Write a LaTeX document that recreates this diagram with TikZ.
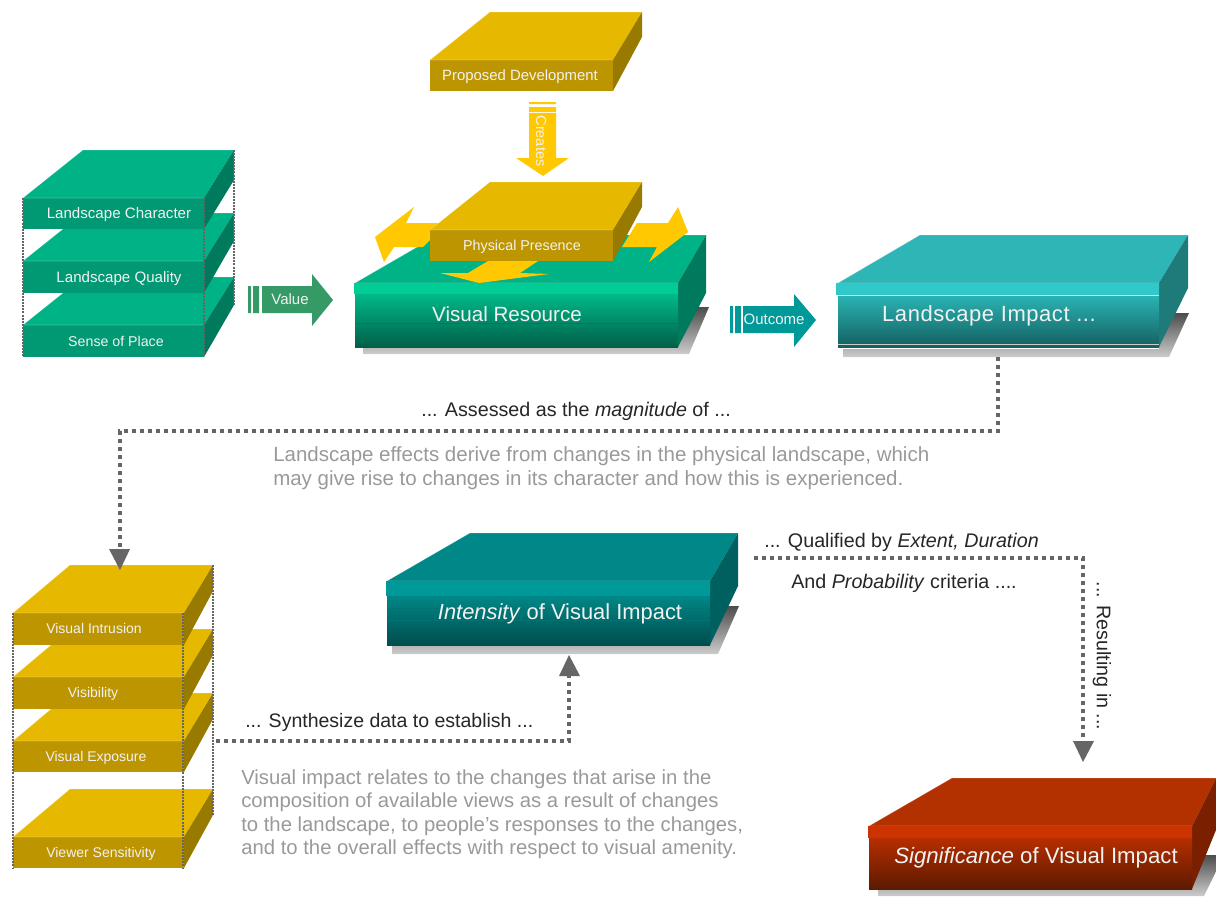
\documentclass[tikz,border=0pt]{standalone}
\usepackage{fontspec}
\setmainfont{Liberation Sans}
\usetikzlibrary{calc}
\definecolor{gtop}{HTML}{00B386}\definecolor{gfront}{HTML}{009973}\definecolor{gside}{HTML}{007A5C}
\definecolor{ytop}{HTML}{E6B800}\definecolor{yfront}{HTML}{BD9500}\definecolor{yside}{HTML}{997A00}
\definecolor{flow}{HTML}{FFC800}\definecolor{conn}{HTML}{666666}\definecolor{note}{HTML}{999999}
\definecolor{valc}{HTML}{359A66}\definecolor{outc}{HTML}{009999}
\newcommand{\fs}[1]{\pgfmathsetmacro{\fsz}{#1*0.75}\fontsize{\fsz}{\fsz}\selectfont}
\def\ctop{gtop}\def\cside{gside}
% name, xL, xR, yT, yB, backL, backR, backY, sideBottomY
\newcommand{\slab}[9]{%
  \fill[\ctop] (#2,#4) -- (#6,#8) -- (#7,#8) -- (#3,#4) -- cycle;
  \fill[\cside] (#3,#4) -- (#7,#8) -- (#7,#9) -- (#3,#5) -- cycle;
  \pgfmathsetmacro{\cxx}{(#2+#3)/2}\pgfmathsetmacro{\cyy}{(#4+#5)/2}
  \pgfmathsetmacro{\wdd}{(#3-#2)*0.75}\pgfmathsetmacro{\htt}{(#5-#4)*0.75}
  \node[slabfront,minimum width=\wdd pt,minimum height=\htt pt] (#1) at (\cxx,\cyy) {};
  \draw[white,opacity=0.25,line width=0.5pt] (#2,#4) -- (#6,#8) -- (#7,#8) (#2,#4) -- (#3,#4);
}
\newcommand{\shadowpoly}[6]{% xL,xR,yB (bottom), xRtop, yTop, xFront
  \shade[top color=black!70,bottom color=black!20]
    (#1,#3) -- (#2,#3) -- (#4,#5) -- (#6,#5) -- (#6,#3-8) -- (#1,#3-8) -- cycle;
}
\tikzset{
  slabfront/.style={fill=gfront,inner sep=0pt,outer sep=0pt,draw=none},
  slabtext/.style={text=white!95!black,inner sep=0pt,font=\fs{14}},
  bigtext/.style={text=white!95!black,inner sep=0pt,font=\fs{21}},
  linktext/.style={text=black!85,inner sep=0pt,anchor=west,font=\fs{19.7}},
  notetext/.style={text=note,inner sep=0pt,anchor=west,font=\fs{20.3}},
  edgeline/.style={conn,line width=0.9pt,dash pattern=on 1.5pt off 0.8pt},
  flowline/.style={conn,line width=3pt,dash pattern=on 3pt off 3pt},
  headfill/.style={fill=conn,draw=none},
}
\begin{document}
\begin{tikzpicture}[x=0.75pt,y=-0.75pt]
\useasboundingbox (0,0) rectangle (1216,896);
\clip (0,0) rectangle (1216,896);

% --- left green stack
\def\ctop{gtop}\def\cside{gside}
\slab{sq}{23}{204}{325}{357}{83}{234}{277}{305}
\slab{lq}{23}{204}{261}{293}{83}{234}{213}{241}
\slab{lc}{23}{204}{198}{229}{83}{234}{150}{180}
\draw[edgeline] (23,198) -- (23,357) (204,198) -- (204,357) (234,150) -- (234,305);
\node[slabtext,font=\fs{15.1}] (lct) at (119,215) {Landscape Character};
\node[slabtext,font=\fs{15.1}] (lqt) at (119,279) {Landscape Quality};
\node[slabtext,font=\fs{14.2}] (spt) at (116,341) {Sense of Place};

% --- value arrow
\fill[valc] (248,286) rectangle (251,313) (253,286) rectangle (259,313)
  (262,286) -- (312,286) -- (312,274) -- (333,300) -- (312,326) -- (312,313) -- (262,313) -- cycle;
\node[text=white!95!black,inner sep=0pt,font=\fs{15}] (valuet) at (290,299) {Value};

% --- proposed development
\def\ctop{ytop}\def\cside{yside}
\tikzset{slabfront/.style={fill=yfront,inner sep=0pt,outer sep=0pt,draw=none}}
\slab{pd}{430}{613}{60}{91}{490}{642}{12}{37}
\node[slabtext,font=\fs{14.9}] (pdt) at (520,77) {Proposed Development};

% --- creates arrow
\fill[flow] (529,102) rectangle (556,104) (529,107) rectangle (556,112)
  (529,113) -- (556,113) -- (556,158) -- (569,158) -- (543,176) -- (516,158) -- (529,158) -- cycle;
\node[rotate=-90,text=white!95!black,inner sep=0pt,font=\fs{14.5}] (createst) at (541,141) {Creates};

% --- visual resource
\begin{scope}
\def\ctop{gtop}\def\cside{gside}
\shadowpoly{363}{689}{354}{709}{307}{678}
\tikzset{slabfront/.style={top color=HTMLa,middle color=HTMLb,bottom color=HTMLc,inner sep=0pt,outer sep=0pt,draw=none}}
\definecolor{HTMLa}{HTML}{00CC96}\definecolor{HTMLb}{HTML}{009E78}\definecolor{HTMLc}{HTML}{005F48}
\slab{vr}{355}{678}{283}{347}{438}{706}{235}{293}
\fill[HTMLa] (354,283) rectangle (678,294);
\draw[HTMLa!60!black,line width=0.5pt] (355,323) -- (678,323);
\node[bigtext,font=\fs{20.6}] (vrt) at (507,314) {Visual Resource};
\end{scope}

% --- spreading arrows
\fill[flow] (375,237) -- (414,207) -- (406,223) -- (445,223) -- (430,240) -- (423,247) -- (394,247) -- (384,262) -- cycle;
\fill[flow] (622,247) -- (637,223) -- (668,223) -- (678,207) -- (688,232) -- (649,262) -- (657,247) -- cycle;
\fill[flow] (488,261) -- (538,261) -- (520,273) -- (549,274) -- (479,283) -- (440,273) -- (468,273) -- cycle;

% --- physical presence
\slab{pp}{430}{613}{230}{261}{490}{642}{182}{207}
\node[slabtext,font=\fs{14.3}] (ppt) at (522,247) {Physical Presence};

% --- outcome arrow
\fill[outc] (730,306) rectangle (733,333) (735,306) rectangle (741,333)
  (743,306) -- (794,306) -- (794,294) -- (816,320) -- (794,347) -- (794,333) -- (743,333) -- cycle;
\node[text=white!95!black,inner sep=0pt,font=\fs{15}] (outt) at (774,319) {Outcome};

% --- landscape impact
\begin{scope}
\definecolor{ctopa}{HTML}{2EB5B5}\definecolor{csidea}{HTML}{1F7A7A}
\def\ctop{ctopa}\def\cside{csidea}
\definecolor{HTMLa}{HTML}{30C8C8}\definecolor{HTMLb}{HTML}{2AA0A4}\definecolor{HTMLc}{HTML}{145F60}
\shadowpoly{843}{1169}{357}{1189}{313}{1159}
\tikzset{slabfront/.style={top color=HTMLa,middle color=HTMLb,bottom color=HTMLc,inner sep=0pt,outer sep=0pt,draw=none}}
\slab{li}{838}{1159}{283}{347}{920}{1188}{235}{288}
\fill[HTMLa] (836,283) rectangle (1159,295);
\draw[white!70!HTMLa,line width=0.5pt] (838,295) -- (1159,295);
\draw[white!60!gray,line width=0.5pt] (838,344) -- (1159,344);
\node[bigtext,font=\fs{22}\addfontfeature{LetterSpace=2.5}] (lit) at (989,316) {Landscape Impact ...};
\end{scope}

% --- intensity
\begin{scope}
\definecolor{ctopa}{HTML}{008888}\definecolor{csidea}{HTML}{006060}
\def\ctop{ctopa}\def\cside{csidea}
\definecolor{HTMLa}{HTML}{009999}\definecolor{HTMLb}{HTML}{008080}\definecolor{HTMLc}{HTML}{004D4D}
\shadowpoly{392}{718}{654}{739}{606}{709}
\tikzset{slabfront/.style={top color=HTMLa,middle color=HTMLb,bottom color=HTMLc,inner sep=0pt,outer sep=0pt,draw=none}}
\slab{iv}{387}{710}{581}{645}{470}{738}{533}{586}
\fill[HTMLa] (386,581) rectangle (710,596);
\draw[black!10!HTMLb,line width=0.4pt] (387,608) -- (710,608) (387,620) -- (710,620);
\node[bigtext,font=\fs{21.9}] (ivt) at (560,614) {\textit{Intensity} of Visual Impact};
\end{scope}

% --- significance
\begin{scope}
\definecolor{ctopa}{HTML}{B33000}\definecolor{csidea}{HTML}{7A2000}
\def\ctop{ctopa}\def\cside{csidea}
\definecolor{HTMLa}{HTML}{CC3300}\definecolor{HTMLb}{HTML}{A82C00}\definecolor{HTMLc}{HTML}{5C1A00}
\shadowpoly{878}{1204}{896}{1224}{855}{1192}
\tikzset{slabfront/.style={top color=HTMLa,middle color=HTMLb,bottom color=HTMLc,inner sep=0pt,outer sep=0pt,draw=none}}
\slab{si}{869}{1192}{826}{889}{952}{1216}{778}{830}
\fill[HTMLa] (868,826) rectangle (1192,838);
\node[bigtext,font=\fs{22.2}] (sit) at (1036,858) {\textit{Significance} of Visual Impact};
\end{scope}

% --- lower gold stack
\def\ctop{ytop}\def\cside{yside}
\tikzset{slabfront/.style={fill=yfront,inner sep=0pt,outer sep=0pt,draw=none}}
\slab{vs}{13}{184}{837}{868}{70}{213}{789}{815}
\slab{ve}{13}{184}{741}{772}{70}{213}{693}{719}
\slab{vb}{13}{184}{677}{709}{70}{213}{629}{655}
\slab{vi}{13}{184}{613}{645}{70}{213}{565}{591}
\draw[edgeline] (13,613) -- (13,868) (183,613) -- (183,868) (213,565) -- (213,815);
\node[slabtext] (vit) at (94,628) {Visual Intrusion};
\node[slabtext] (vbt) at (93,694) {Visibility};
\node[slabtext] (vet) at (96,758) {Visual Exposure};
\node[slabtext] (vst) at (101,854) {Viewer Sensitivity};

% --- connectors
\coordinate (a0) at (998,357);
\coordinate (a1) at (998,431);
\coordinate (a2) at (120,431);
\coordinate (a3) at (120,549);
\draw[flowline] (a0) -- (a1) -- (a2) -- (a3);
\fill[headfill] (109,549) -- (130,549) -- (120,570) -- cycle;

\coordinate (b0) at (216,741);
\coordinate (b1) at (569,741);
\coordinate (b2) at (569,676);
\draw[flowline] (b0) -- (b1) -- (b2);
\fill[headfill] (559,676) -- (580,676) -- (569,655) -- cycle;

\coordinate (c0) at (754,558);
\coordinate (c1) at (1083,558);
\coordinate (c2) at (1083,741);
\draw[flowline] (c0) -- (c1) -- (c2);
\fill[headfill] (1073,741) -- (1094,741) -- (1083,762) -- cycle;

% --- labels
\node[linktext] (t1) at (421,411) {... Assessed as the \textit{magnitude} of ...};
\node[notetext,font=\fs{20.5}] (t2) at (273,456) {Landscape effects derive from changes in the physical landscape, which};
\node[notetext,font=\fs{20.5}] (t3) at (273,480) {may give rise to changes in its character and how this is experienced.};
\node[linktext] (t4) at (764,542) {... Qualified by \textit{Extent, Duration}};
\node[linktext] (t5) at (791,583) {And \textit{Probability} criteria ....};
\node[linktext,anchor=center,rotate=-90] (t6) at (1102,656) {... Resulting in ...};
\node[linktext,font=\fs{19.5}] (t7) at (245,722) {... Synthesize data to establish ...};
\node[notetext] (t8) at (241,779) {Visual impact relates to the changes that arise in the};
\node[notetext] (t9) at (241,802) {composition of available views as a result of changes};
\node[notetext] (t10) at (241,826) {to the landscape, to people’s responses to the changes,};
\node[notetext] (t11) at (241,849) {and to the overall effects with respect to visual amenity.};
\end{tikzpicture}
\end{document}
